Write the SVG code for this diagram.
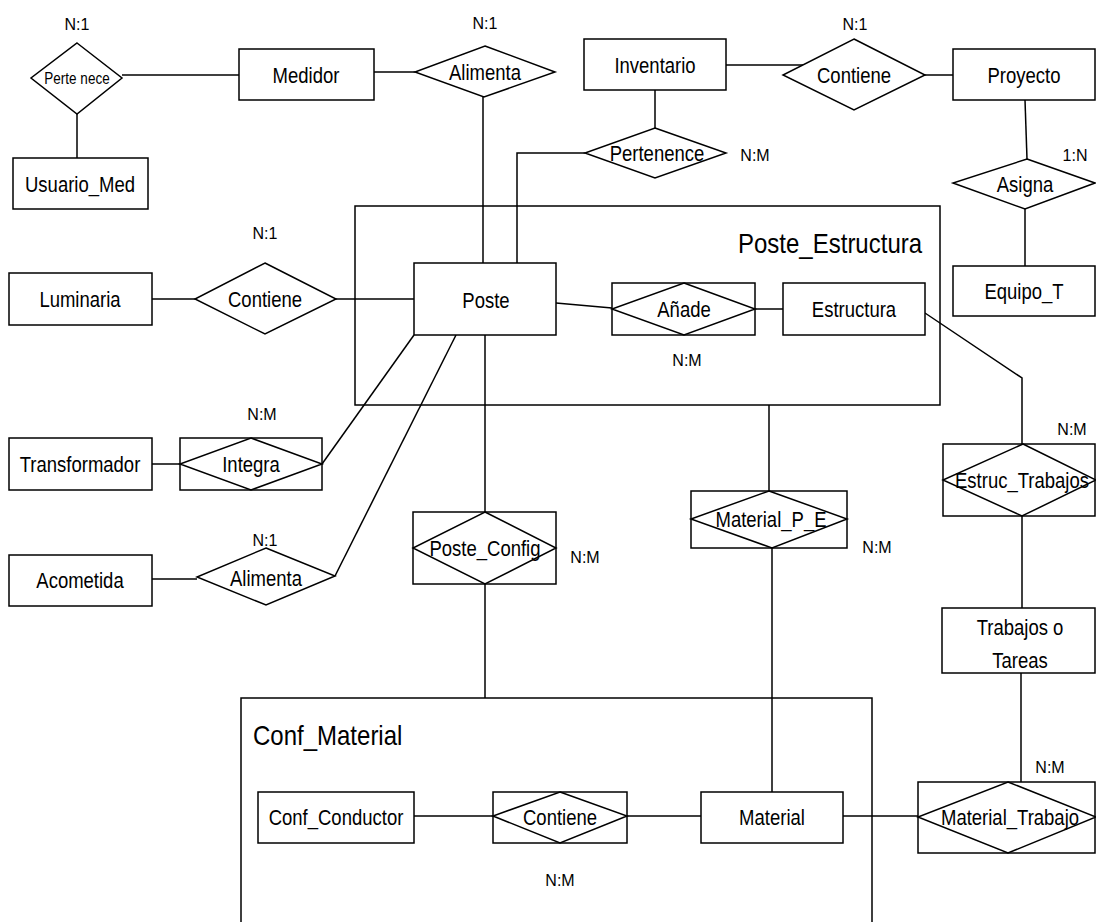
<svg xmlns="http://www.w3.org/2000/svg" width="1096" height="922" viewBox="0 0 1096 922">
<style>
.s{fill:#fff;stroke:#000;stroke-width:1.5}
.f{fill:none;stroke:#000;stroke-width:1.5}
.c{fill:none;stroke:#000;stroke-width:1.5}
text{font-family:"Liberation Sans",Arial,sans-serif;fill:#000;text-anchor:middle;dominant-baseline:central}
.t{font-size:18.5px}
.k{font-size:16px}
.h{font-size:24px;text-anchor:start}
</style>
<rect width="1096" height="922" fill="#fff"/>
<g id="frame-poste-estructura"><rect class="f" x="355" y="206" width="585" height="199"/><text class="h" transform="translate(738,243) scale(1,1.15)">Poste_Estructura</text></g>
<g id="frame-conf-material"><path class="f" d="M241,925 V698 H872 V925"/><text class="h" transform="translate(253,735) scale(1,1.15)">Conf_Material</text></g>
<g id="connectors">
<path class="c" d="M122,75 H239"/>
<path class="c" d="M77,114 V158"/>
<path class="c" d="M374,72 H415"/>
<path class="c" d="M483,97 V263"/>
<path class="c" d="M726,65 H803"/>
<path class="c" d="M925,75 H953"/>
<path class="c" d="M655,90 V128"/>
<path class="c" d="M585,153 H517 V263"/>
<path class="c" d="M1025,100 L1027,159"/>
<path class="c" d="M1025,209 V266"/>
<path class="c" d="M152,299 H195"/>
<path class="c" d="M336,299 H414"/>
<path class="c" d="M556,303 L612,308"/>
<path class="c" d="M755,309 H783"/>
<path class="c" d="M925,313 L1022,378 V444"/>
<path class="c" d="M152,464 H180"/>
<path class="c" d="M322,464 L414,335"/>
<path class="c" d="M152,579 H197"/>
<path class="c" d="M335,576 L456,335"/>
<path class="c" d="M485,335 V512"/>
<path class="c" d="M485,584 V698"/>
<path class="c" d="M769,405 V491"/>
<path class="c" d="M772,548 V792"/>
<path class="c" d="M1022,516 V608"/>
<path class="c" d="M1021,673 V782"/>
<path class="c" d="M414,816 H493"/>
<path class="c" d="M627,816 H701"/>
<path class="c" d="M843,816 H918"/>
</g>
<g id="pertenece"><polygon class="s" points="77,43 122,78 77,114 31,78"/><text transform="translate(77,79) scale(1,1.17)" style="font-size:13.5px">Perte nece</text><text class="k" x="77" y="24">N:1</text></g>
<g id="medidor"><rect class="s" x="239" y="49" width="135" height="51"/><text class="t" transform="translate(306,75) scale(1,1.17)">Medidor</text></g>
<g id="usuario-med"><rect class="s" x="13" y="158" width="135" height="51"/><text class="t" transform="translate(80,184) scale(1,1.17)">Usuario_Med</text></g>
<g id="alimenta-1"><polygon class="s" points="485,46 555,72 484,97 415,72"/><text class="t" transform="translate(485,72) scale(1,1.17)">Alimenta</text><text class="k" x="485" y="23">N:1</text></g>
<g id="inventario"><rect class="s" x="584" y="39" width="142" height="51"/><text class="t" transform="translate(655,65) scale(1,1.17)">Inventario</text></g>
<g id="pertenence"><polygon class="s" points="655,128 726,153 655,178 585,153"/><text class="t" transform="translate(657,153) scale(1,1.17)">Pertenence</text><text class="k" x="755" y="155">N:M</text></g>
<g id="contiene-1"><polygon class="s" points="854,39 925,75 854,110 783,75"/><text class="t" transform="translate(854,75) scale(1,1.17)">Contiene</text><text class="k" x="855" y="24">N:1</text></g>
<g id="proyecto"><rect class="s" x="953" y="49" width="142" height="51"/><text class="t" transform="translate(1024,75) scale(1,1.17)">Proyecto</text></g>
<g id="asigna"><polygon class="s" points="1027,159 1095,183 1025,209 953,183"/><text class="t" transform="translate(1025,184) scale(1,1.17)">Asigna</text><text class="k" x="1075" y="155">1:N</text></g>
<g id="equipo-t"><rect class="s" x="953" y="266" width="142" height="50"/><text class="t" transform="translate(1024,291) scale(1,1.17)">Equipo_T</text></g>
<g id="luminaria"><rect class="s" x="9" y="273" width="143" height="52"/><text class="t" transform="translate(80,299) scale(1,1.17)">Luminaria</text></g>
<g id="contiene-2"><polygon class="s" points="265,263 336,299 265,334 195,299"/><text class="t" transform="translate(265,299) scale(1,1.17)">Contiene</text><text class="k" x="265" y="233">N:1</text></g>
<g id="poste"><rect class="s" x="414" y="263" width="142" height="72"/><text class="t" transform="translate(486,300) scale(1,1.17)">Poste</text></g>
<g id="anade"><rect class="s" x="612" y="283" width="143" height="52"/><polygon class="s" points="684,283 755,309 684,335 612,309"/><text class="t" transform="translate(684,309) scale(1,1.17)">Añade</text><text class="k" x="687" y="360">N:M</text></g>
<g id="estructura"><rect class="s" x="783" y="283" width="142" height="52"/><text class="t" transform="translate(854,309) scale(1,1.17)">Estructura</text></g>
<g id="transformador"><rect class="s" x="9" y="438" width="143" height="52"/><text class="t" transform="translate(80,464) scale(1,1.17)">Transformador</text></g>
<g id="integra"><rect class="s" x="180" y="438" width="142" height="52"/><polygon class="s" points="251,438 322,464 251,490 180,464"/><text class="t" transform="translate(251,464) scale(1,1.17)">Integra</text><text class="k" x="262" y="414">N:M</text></g>
<g id="acometida"><rect class="s" x="9" y="555" width="143" height="51"/><text class="t" transform="translate(80,580) scale(1,1.17)">Acometida</text></g>
<g id="alimenta-2"><polygon class="s" points="266,548 335,576 266,605 197,577"/><text class="t" transform="translate(266,578) scale(1,1.17)">Alimenta</text><text class="k" x="265" y="540">N:1</text></g>
<g id="poste-config"><rect class="s" x="413" y="512" width="143" height="72"/><polygon class="s" points="485,512 556,548 485,584 413,548"/><text class="t" transform="translate(485,548) scale(1,1.17)">Poste_Config</text><text class="k" x="585" y="557">N:M</text></g>
<g id="material-p-e"><rect class="s" x="691" y="491" width="156" height="57"/><polygon class="s" points="769,491 847,519 772,548 691,519"/><text class="t" transform="translate(771,519) scale(1,1.17)">Material_P_E</text><text class="k" x="877" y="547">N:M</text></g>
<g id="estruc-trabajos"><rect class="s" x="943" y="444" width="152" height="72"/><polygon class="s" points="1023,444 1096,480 1022,516 943,480"/><text class="t" transform="translate(1022,480) scale(1,1.17)">Estruc_Trabajos</text><text class="k" x="1072" y="429">N:M</text></g>
<g id="trabajos"><rect class="s" x="942" y="608" width="153" height="65"/><text class="t" transform="translate(1020,627) scale(1,1.17)">Trabajos o</text><text class="t" transform="translate(1020,660) scale(1,1.17)">Tareas</text></g>
<g id="conf-conductor"><rect class="s" x="258" y="792" width="156" height="51"/><text class="t" transform="translate(336,817) scale(1,1.17)">Conf_Conductor</text></g>
<g id="contiene-3"><rect class="s" x="493" y="792" width="134" height="51"/><polygon class="s" points="560,792 627,816 560,843 493,816"/><text class="t" transform="translate(560,817) scale(1,1.17)">Contiene</text><text class="k" x="560" y="880">N:M</text></g>
<g id="material"><rect class="s" x="701" y="792" width="142" height="51"/><text class="t" transform="translate(772,817) scale(1,1.17)">Material</text></g>
<g id="material-trabajo"><rect class="s" x="918" y="782" width="177" height="71"/><polygon class="s" points="1008,782 1096,817 1008,853 918,817"/><text class="t" transform="translate(1010,817) scale(1,1.17)">Material_Trabajo</text><text class="k" x="1050" y="767">N:M</text></g>
</svg>
